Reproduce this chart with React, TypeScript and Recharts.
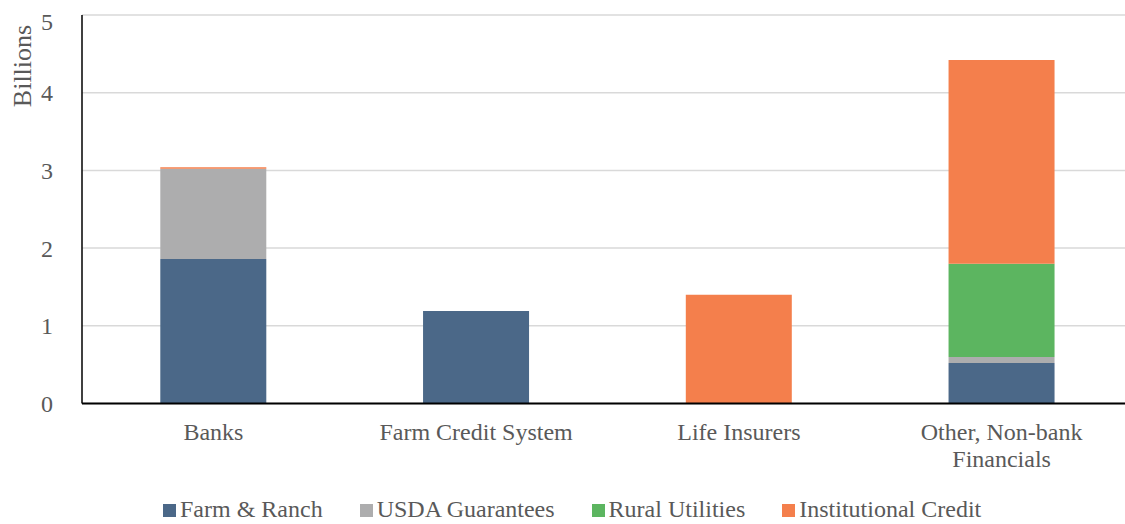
import { Bar, BarChart, CartesianGrid, Label, XAxis, YAxis } from "recharts";

const categories = ["Banks", "Farm Credit System", "Life Insurers", "Other, Non-bank Financials"];
// how each category label is broken onto lines under the axis
const categoryLines = [["Banks"], ["Farm Credit System"], ["Life Insurers"], ["Other, Non-bank", "Financials"]];
const farmRanch = [1.86, 1.19, 0, 0.52];
const usdaGuarantees = [1.16, 0, 0, 0.08];
const ruralUtilities = [0, 0, 0, 1.2];
const institutionalCredit = [0.02, 0, 1.4, 2.62];
const yTicks = [0, 1, 2, 3, 4, 5];

const series = [
    { key: "farmRanch", name: "Farm & Ranch", color: "#4B6888" },
    { key: "usda", name: "USDA Guarantees", color: "#ADADAE" },
    { key: "rural", name: "Rural Utilities", color: "#5CB560" },
    { key: "institutional", name: "Institutional Credit", color: "#F47F4C" },
];

const data = categories.map((name, i) => ({
    name,
    farmRanch: farmRanch[i],
    usda: usdaGuarantees[i],
    rural: ruralUtilities[i],
    institutional: institutionalCredit[i],
}));

const FONT = "'Liberation Serif', 'Times New Roman', serif";
const GREY = "#595959";

function CategoryTick({ x, y, payload }: any) {
    const idx = categories.indexOf(payload.value);
    const lines = idx >= 0 ? categoryLines[idx] : [payload.value];
    return (
        <text x={x} y={y} textAnchor="middle" fontSize={24} fontFamily={FONT} fill={GREY}>
            {lines.map((line: string, i: number) => (
                <tspan key={i} x={x} dy={i === 0 ? 17 : 27}>
                    {line}
                </tspan>
            ))}
        </text>
    );
}

function YLabel({ viewBox }: any) {
    const x = viewBox.x + 23;
    const y = viewBox.y + 51;
    return (
        <text x={x} y={y} transform={`rotate(-90 ${x} ${y})`} textAnchor="middle" fontSize={26} fontFamily={FONT} fill={GREY}>
            Billions
        </text>
    );
}

export default function App() {
    return (
        <div style={{ position: "fixed", left: 0, top: 0, width: 1125, height: 524, overflow: "hidden", background: "#fff" }}>
            <div style={{ position: "absolute", left: 8, top: 8 }}>
                <BarChart
                    width={1125}
                    height={470}
                    margin={{ top: 7, right: 0, left: 0, bottom: 14.5 }}
                    data={data}
                    barCategoryGap="29.8%"
                >
                    <CartesianGrid vertical={false} stroke="#D9D9D9" strokeWidth={1.5} />
                    <XAxis
                        dataKey="name"
                        height={60}
                        tickLine={false}
                        tickSize={0}
                        tickMargin={19}
                        axisLine={{ stroke: "#000", strokeWidth: 2 }}
                        tick={<CategoryTick />}
                        interval={0}
                    />
                    <YAxis
                        width={74}
                        domain={[0, 5]}
                        ticks={yTicks}
                        tickLine={false}
                        tickSize={0}
                        tickMargin={29}
                        axisLine={{ stroke: "#000", strokeWidth: 1.5 }}
                        tick={{ fontSize: 24, fontFamily: FONT, fill: GREY }}
                    >
                        <Label content={<YLabel />} />
                    </YAxis>
                    {series.map((s) => (
                        <Bar key={s.key} dataKey={s.key} name={s.name} stackId="a" fill={s.color} isAnimationActive={false} />
                    ))}
                </BarChart>
            </div>
            <div
                style={{
                    position: "absolute",
                    top: 497,
                    left: 163,
                    display: "flex",
                    gap: 37,
                    fontFamily: FONT,
                    fontSize: 24,
                    lineHeight: "24px",
                    color: GREY,
                    whiteSpace: "nowrap",
                }}
            >
                {series.map((s) => (
                    <div key={s.key} style={{ display: "flex", alignItems: "center" }}>
                        <span style={{ display: "inline-block", width: 13, height: 13, background: s.color, marginRight: 4, marginTop: 3 }} />
                        <span>{s.name}</span>
                    </div>
                ))}
            </div>
        </div>
    );
}
